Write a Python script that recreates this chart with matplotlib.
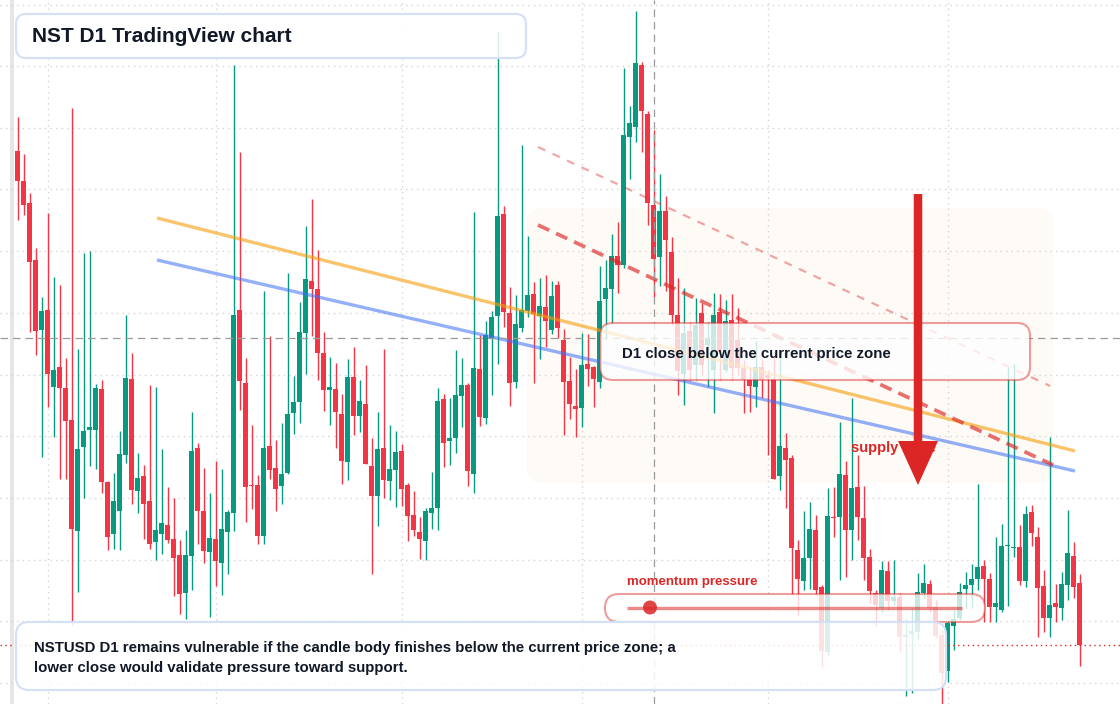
import numpy as np
import matplotlib.pyplot as plt
from matplotlib.patches import FancyBboxPatch, FancyArrow, Rectangle, Circle

plt.rcParams['font.family'] = ['Liberation Sans', 'DejaVu Sans']

# NSTUSD daily candles (price units, 178 sessions)
opens = [549, 519, 497, 440, 370, 390, 313, 333, 312, 280,
         169, 253, 270, 270, 311, 218, 166, 189, 245, 321,
         209, 224, 199, 158, 166, 175, 161, 145, 107, 144,
         252, 189, 148, 161, 137, 168, 187, 390, 317, 215,
         215, 164, 254, 232, 214, 227, 287, 298, 367, 419,
         411, 347, 310, 311, 286, 238, 323, 284, 296, 234,
         204, 252, 219, 230, 249, 215, 185, 168, 159, 187,
         192, 301, 259, 262, 304, 315, 226, 331, 282, 362,
         384, 486, 387, 318, 372, 389, 406, 384, 393, 370,
         415, 360, 319, 294, 292, 336, 333, 318, 401, 411,
         444, 435, 563, 573, 635, 586, 495, 443, 489, 448,
         385, 326, 369, 335, 387, 355, 330, 388, 330, 380,
         360, 332, 320, 313, 333, 325, 321, 224, 252, 242,
         150, 119, 142, 170, 113, 48, 183, 183, 225, 170,
         213, 182, 143, 107, 92, 129, 99, 103, 63, 66,
         68, 107, 116, 93, 65, 29, 74, 82, 111, 115,
         121, 134, 121, 93, 90, 154, 152, 153, 119, 188,
         163, 114, 82, 97, 92, 115, 144, 117]
highs = [583, 546, 507, 452, 403, 487, 423, 415, 342, 592,
         351, 447, 449, 316, 320, 219, 227, 269, 385, 347,
         247, 235, 315, 313, 251, 213, 202, 160, 170, 288,
         257, 232, 207, 239, 231, 190, 635, 548, 342, 275,
         225, 409, 364, 260, 277, 427, 324, 398, 474, 501,
         450, 368, 343, 337, 306, 341, 353, 320, 335, 262,
         288, 351, 275, 269, 256, 217, 209, 183, 192, 228,
         312, 306, 302, 350, 342, 317, 488, 365, 379, 389,
         669, 494, 413, 405, 555, 464, 418, 422, 425, 419,
         419, 371, 343, 331, 367, 366, 334, 434, 440, 466,
         478, 632, 594, 689, 638, 589, 570, 526, 504, 463,
         422, 412, 378, 402, 397, 378, 407, 406, 400, 406,
         392, 340, 333, 359, 340, 330, 343, 343, 267, 245,
         160, 189, 198, 185, 115, 212, 213, 278, 239, 302,
         245, 214, 151, 110, 139, 139, 140, 107, 81, 92,
         127, 136, 120, 100, 70, 80, 90, 117, 128, 136,
         216, 140, 127, 163, 176, 333, 336, 175, 194, 195,
         173, 130, 263, 116, 128, 190, 158, 126]
lows = [480, 485, 368, 345, 243, 293, 263, 221, 221, 75,
        108, 202, 234, 231, 207, 150, 151, 150, 237, 196,
        187, 161, 151, 140, 146, 157, 104, 86, 81, 110,
        156, 137, 83, 114, 105, 126, 169, 290, 178, 191,
        156, 156, 221, 189, 196, 226, 266, 277, 326, 364,
        320, 289, 275, 252, 216, 220, 265, 268, 236, 126,
        174, 202, 200, 193, 194, 159, 164, 141, 140, 171,
        170, 233, 235, 247, 273, 214, 207, 274, 276, 305,
        336, 373, 294, 312, 368, 383, 317, 341, 353, 366,
        362, 265, 281, 263, 273, 314, 293, 312, 361, 376,
        407, 432, 521, 558, 548, 475, 403, 414, 409, 375,
        305, 295, 320, 320, 325, 313, 287, 320, 328, 320,
        325, 287, 288, 293, 302, 245, 221, 210, 192, 105,
        85, 110, 111, 105, 33, 45, 163, 120, 123, 140,
        160, 120, 97, 74, 88, 90, 95, 48, 4, 7,
        60, 102, 88, 62, -4, 18, 50, 80, 92, 92,
        110, 78, 78, 78, 88, 94, 143, 115, 113, 154,
        63, 68, 63, 78, 80, 100, 102, 34]
closes = [519, 495, 438, 369, 389, 326, 330, 312, 279, 171,
          251, 269, 273, 312, 218, 163, 199, 246, 322, 210,
          222, 196, 156, 170, 177, 160, 142, 106, 145, 249,
          189, 149, 162, 139, 171, 188, 385, 319, 213, 214,
          164, 252, 230, 211, 226, 286, 298, 368, 421, 411,
          347, 310, 313, 288, 239, 323, 284, 299, 236, 204,
          251, 220, 231, 248, 211, 184, 170, 161, 189, 192,
          299, 257, 262, 305, 315, 229, 332, 283, 365, 383,
          484, 388, 317, 376, 390, 405, 386, 394, 379, 404,
          372, 318, 296, 291, 335, 331, 321, 399, 412, 444,
          435, 565, 577, 637, 589, 497, 441, 489, 460, 385,
          329, 367, 330, 375, 335, 362, 385, 348, 379, 332,
          332, 320, 314, 333, 320, 322, 221, 254, 240, 152,
          121, 142, 171, 110, 49, 184, 182, 226, 170, 212,
          183, 142, 109, 95, 130, 99, 103, 63, 65, 69,
          108, 117, 92, 64, 27, 77, 81, 108, 115, 121,
          133, 121, 93, 97, 154, 155, 153, 119, 186, 167,
          112, 82, 95, 93, 116, 147, 113, 55]

# drawn levels (bar index, price)
orange_line = ([23.25, 176.25], [482, 249])
blue_line = ([23.25, 176.25], [440, 229])
red_upper = ([86.75, 172.1], [553, 314])
red_lower = ([86.75, 172.6], [475, 235])
cross_bar = 106
cross_price = 362
last_price = closes[-1]
month_bars = [5, 33, 64, 94, 125, 155]
grid_prices = [17.5, 79, 140.5, 202, 264, 325.5, 387, 449, 511, 572.5, 634, 695.5]

up_color = '#089981'
down_color = '#f23645'
W, H = 1120, 704
step, x0 = 6.0, 17.5

fig = plt.figure(figsize=(11.2, 7.04), dpi=100)
fig.patch.set_facecolor('white')

# background layer in pixels: zone shading + left strip
bg = fig.add_axes([0, 0, 1, 1], zorder=0)
bg.set_xlim(0, W)
bg.set_ylim(H, 0)
bg.axis('off')
bg.add_patch(FancyBboxPatch((527, 208), 526, 275, boxstyle='round,pad=0,rounding_size=16',
                            fc='#fefaf6', ec='none'))
bg.add_patch(Rectangle((10, 0), 3.5, H, fc='#e6e6e6', ec='none'))

# candles
ax = fig.add_axes([0, 0, 1, 1], zorder=1)
ax.patch.set_alpha(0)
ax.set_xlim(-x0 / step, (W - x0) / step)
ax.set_ylim(-4, 700)
for s in ax.spines.values():
    s.set_visible(False)
ax.set_xticks(month_bars)
ax.set_yticks(grid_prices)
ax.tick_params(length=0, labelbottom=False, labelleft=False)
ax.grid(True, color='#d4d4d4', linestyle=(0, (1, 3)), lw=1)
ax.set_axisbelow(True)

o = np.array(opens, float)
h = np.array(highs, float)
l = np.array(lows, float)
c = np.array(closes, float)
x = np.arange(len(o))
cols = np.where(c >= o, up_color, down_color)
ax.vlines(x, l, h, colors=cols, lw=1, zorder=3)
ax.bar(x, np.maximum(np.abs(c - o), 0.9), bottom=np.minimum(o, c), width=0.78,
       color=cols, lw=0, zorder=4)

ax.plot(*orange_line, color='#f59e0b', alpha=0.6, lw=2.4, solid_capstyle='butt', zorder=5)
ax.plot(*blue_line, color='#3b6ff5', alpha=0.55, lw=2.4, solid_capstyle='butt', zorder=5)
ax.plot(*red_upper, color='#dc2626', alpha=0.4, lw=1.6, ls=(0, (3.6, 3.6)), zorder=5)
ax.plot(*red_lower, color='#dc2626', alpha=0.65, lw=2.7, ls=(0, (3.3, 2.0)), zorder=5)

ax.axhline(cross_price, color='#9a9a9a', lw=0.9, ls=(0, (6, 4)), zorder=6)
ax.axvline(cross_bar, color='#9a9a9a', lw=0.9, ls=(0, (6, 4)), zorder=6)
ax.axhline(last_price, color='#dc2626', lw=1, ls=(0, (1, 2.5)), zorder=6)

# overlay layer in pixels: boxes, labels, arrow
ov = fig.add_axes([0, 0, 1, 1], zorder=2)
ov.patch.set_alpha(0)
ov.set_xlim(0, W)
ov.set_ylim(H, 0)
ov.axis('off')

dark = '#111827'
red = '#dc2626'
blue_edge = '#d3e0f6'

ov.add_patch(FancyBboxPatch((16, 14), 510, 44, boxstyle='round,pad=0,rounding_size=10',
                            fc=(1, 1, 1, 0.86), ec=blue_edge, lw=1.5))
ov.text(32, 37, 'NST D1 TradingView chart', fontsize=15, fontweight='bold',
        color=dark, va='center', ha='left')

ov.add_patch(FancyBboxPatch((600, 323), 430, 57, boxstyle='round,pad=0,rounding_size=13',
                            fc=(1, 1, 1, 0.78), ec=(0.86, 0.15, 0.15, 0.45), lw=1.5))
ov.text(622, 354, 'D1 close below the current price zone', fontsize=10.8, fontweight='bold',
        color=dark, va='center', ha='left')

ov.text(851, 448, 'supply zone', fontsize=10.5, fontweight='bold', color=red,
        va='center', ha='left')
ov.add_patch(FancyArrow(918, 194, 0, 291, width=8.5, head_width=40, head_length=44,
                        length_includes_head=True, fc=red, ec='none'))

ov.text(627, 582, 'momentum pressure', fontsize=9.5, fontweight='bold', color=red,
        va='center', ha='left')
ov.add_patch(FancyBboxPatch((605, 594), 380, 28, boxstyle='round,pad=0,rounding_size=14',
                            fc=(1, 1, 1, 0.78), ec=(0.86, 0.15, 0.15, 0.45), lw=1.5))
ov.plot([627, 962], [607.5, 607.5], color=red, alpha=0.55, lw=2.4, solid_capstyle='butt')
ov.add_patch(Circle((650, 607.5), 7, fc=red, ec='none', alpha=0.85))

ov.add_patch(FancyBboxPatch((16, 622), 930, 68, boxstyle='round,pad=0,rounding_size=13',
                            fc=(1, 1, 1, 0.86), ec=blue_edge, lw=1.5))
ov.text(34, 648, 'NSTUSD D1 remains vulnerable if the candle body finishes below the current price zone; a',
        fontsize=10.8, fontweight='bold', color=dark, va='center', ha='left')
ov.text(34, 668, 'lower close would validate pressure toward support.',
        fontsize=10.8, fontweight='bold', color=dark, va='center', ha='left')

fig.savefig('out.png', dpi=100)
